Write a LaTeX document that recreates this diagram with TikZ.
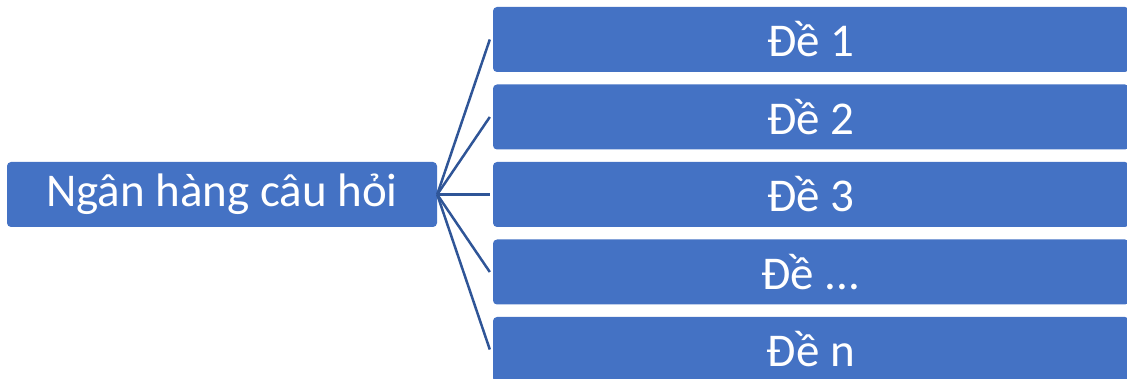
\documentclass[tikz,border=0pt]{standalone}
\usepackage{fontspec}
\setmainfont{Carlito}
\begin{document}
\begin{tikzpicture}[x=1pt,y=-1pt,
  box/.style={fill=boxblue,draw=none,rounded corners=4pt,text=white,font=\fontsize{47}{56}\selectfont,inner sep=0pt,anchor=center},
  link/.style={draw=lineblue,line width=2.5pt}]
\definecolor{boxblue}{HTML}{4472C4}
\definecolor{lineblue}{HTML}{2F5597}
\useasboundingbox (0,0) rectangle (1127,379);
\clip (0,0) rectangle (1127,379);
\node[box,minimum width=430pt,minimum height=65pt] (root) at (222,194.5) {Ngân hàng câu hỏi};
\node[box,minimum width=636pt,minimum height=65pt] (d1) at (811,39.5) {Đề 1};
\node[box,minimum width=636pt,minimum height=65pt] (d2) at (811,117) {Đề 2};
\node[box,minimum width=636pt,minimum height=65pt] (d3) at (811,194.5) {Đề 3};
\node[box,minimum width=636pt,minimum height=65pt] (d4) at (811,272) {Đề ...};
\node[box,minimum width=636pt,minimum height=65pt] (d5) at (811,349.5) {Đề n};
\foreach \n in {d1,d2,d3,d4,d5}{
  \draw[link] (root.east) -- ([xshift=-3pt]\n.west);
}
\end{tikzpicture}
\end{document}
